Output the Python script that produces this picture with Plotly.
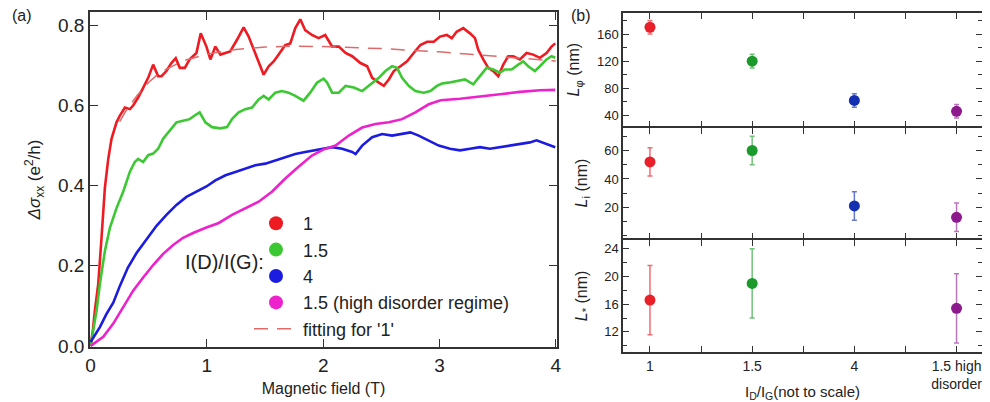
import plotly.graph_objects as go

# ---------------- Panel (a) data: Delta sigma_xx (e^2/h) vs magnetic field (T)
B_r1 = [0.0, 0.02, 0.037, 0.066, 0.094, 0.109, 0.123, 0.152, 0.18, 0.223, 0.252, 0.295, 0.338, 0.366,
        0.409, 0.452, 0.495, 0.538, 0.581, 0.61, 0.652, 0.695, 0.732, 0.767, 0.81, 0.852, 0.91, 0.947,
        0.996, 1.03, 1.073, 1.116, 1.16, 1.2, 1.259, 1.316, 1.359, 1.402, 1.445, 1.488, 1.531, 1.574,
        1.617, 1.674, 1.717, 1.76, 1.803, 1.845, 1.903, 1.96, 2.017, 2.077, 2.134, 2.192, 2.249, 2.32,
        2.378, 2.421, 2.478, 2.521, 2.564, 2.607, 2.664, 2.721, 2.778, 2.835, 2.893, 2.95, 3.004, 3.062,
        3.105, 3.147, 3.204, 3.262, 3.305, 3.333, 3.376, 3.419, 3.462, 3.505, 3.548, 3.591, 3.634, 3.691,
        3.748, 3.805, 3.863, 3.92, 3.963, 3.995]
S_r1 = [0.0, 0.04, 0.089, 0.155, 0.27, 0.329, 0.395, 0.467, 0.517, 0.558, 0.575, 0.595, 0.591, 0.6,
        0.62, 0.644, 0.669, 0.702, 0.673, 0.673, 0.686, 0.706, 0.718, 0.694, 0.694, 0.715, 0.731, 0.78,
        0.747, 0.715, 0.747, 0.727, 0.731, 0.735, 0.764, 0.795, 0.772, 0.739, 0.706, 0.677, 0.698, 0.71,
        0.727, 0.751, 0.755, 0.793, 0.815, 0.788, 0.776, 0.768, 0.776, 0.747, 0.747, 0.731, 0.723, 0.706,
        0.698, 0.669, 0.657, 0.649, 0.665, 0.686, 0.698, 0.71, 0.731, 0.751, 0.759, 0.759, 0.772, 0.776,
        0.768, 0.784, 0.793, 0.78, 0.768, 0.739, 0.715, 0.694, 0.686, 0.673, 0.702, 0.723, 0.723, 0.715,
        0.731, 0.727, 0.719, 0.731, 0.747, 0.755]

B_g15 = [0.0, 0.052, 0.08, 0.123, 0.166, 0.223, 0.28, 0.338, 0.38, 0.409, 0.452, 0.495, 0.538, 0.581,
         0.624, 0.681, 0.738, 0.795, 0.852, 0.895, 0.938, 0.987, 1.044, 1.116, 1.173, 1.216, 1.273, 1.33,
         1.388, 1.445, 1.488, 1.531, 1.588, 1.645, 1.702, 1.76, 1.831, 1.888, 1.946, 2.003, 2.034, 2.077,
         2.134, 2.192, 2.263, 2.335, 2.406, 2.478, 2.535, 2.592, 2.635, 2.678, 2.735, 2.792, 2.864, 2.921,
         2.978, 3.021, 3.076, 3.147, 3.219, 3.29, 3.348, 3.405, 3.462, 3.519, 3.562, 3.62, 3.677, 3.72,
         3.762, 3.82, 3.863, 3.92, 3.963, 3.995]
S_g15 = [0.0, 0.089, 0.155, 0.237, 0.295, 0.344, 0.385, 0.435, 0.459, 0.467, 0.459, 0.476, 0.48, 0.492,
         0.517, 0.537, 0.558, 0.562, 0.566, 0.575, 0.583, 0.558, 0.546, 0.543, 0.546, 0.566, 0.583, 0.591,
         0.595, 0.615, 0.624, 0.615, 0.632, 0.636, 0.632, 0.624, 0.612, 0.632, 0.657, 0.667, 0.657, 0.632,
         0.632, 0.649, 0.645, 0.636, 0.653, 0.669, 0.686, 0.698, 0.694, 0.669, 0.649, 0.636, 0.632, 0.636,
         0.649, 0.655, 0.657, 0.661, 0.665, 0.653, 0.673, 0.694, 0.69, 0.682, 0.69, 0.69, 0.702, 0.71,
         0.698, 0.686, 0.698, 0.715, 0.723, 0.719]

B_b4 = [0.0, 0.08, 0.137, 0.195, 0.252, 0.32, 0.395, 0.481, 0.567, 0.652, 0.738, 0.824, 0.91, 0.996,
        1.073, 1.16, 1.245, 1.33, 1.416, 1.502, 1.588, 1.674, 1.76, 1.845, 1.931, 2.01, 2.077, 2.163,
        2.249, 2.278, 2.335, 2.421, 2.507, 2.592, 2.678, 2.75, 2.821, 2.907, 2.993, 3.09, 3.176, 3.262,
        3.348, 3.433, 3.519, 3.605, 3.691, 3.777, 3.834, 3.92, 3.995]
S_b4 = [0.01, 0.047, 0.08, 0.108, 0.15, 0.195, 0.232, 0.265, 0.3, 0.327, 0.352, 0.372, 0.385, 0.398,
        0.413, 0.426, 0.434, 0.443, 0.451, 0.455, 0.463, 0.471, 0.479, 0.484, 0.488, 0.492, 0.496, 0.492,
        0.484, 0.479, 0.5, 0.521, 0.529, 0.525, 0.529, 0.533, 0.525, 0.513, 0.5, 0.492, 0.488, 0.492,
        0.496, 0.492, 0.496, 0.5, 0.504, 0.508, 0.513, 0.504, 0.496]

B_m15h = [0.0, 0.109, 0.195, 0.281, 0.366, 0.452, 0.538, 0.624, 0.71, 0.795, 0.881, 0.99, 1.102, 1.216,
          1.33, 1.445, 1.559, 1.674, 1.788, 1.903, 2.0, 2.106, 2.22, 2.335, 2.449, 2.564, 2.678, 2.792,
          2.907, 3.01, 3.176, 3.348, 3.519, 3.691, 3.863, 3.995]
S_m15h = [0.0, 0.023, 0.056, 0.097, 0.138, 0.171, 0.202, 0.23, 0.252, 0.27, 0.282, 0.295, 0.307, 0.327,
          0.344, 0.36, 0.385, 0.418, 0.447, 0.475, 0.49, 0.5, 0.525, 0.545, 0.554, 0.558, 0.566, 0.583,
          0.603, 0.613, 0.617, 0.622, 0.628, 0.634, 0.638, 0.639]

B_fit = [0.25, 0.3, 0.4, 0.5, 0.6, 0.8, 1.0, 1.25, 1.5, 1.75, 2.0, 2.5, 3.0, 3.5, 4.0]
S_fit = [0.56, 0.585, 0.625, 0.658, 0.683, 0.712, 0.728, 0.74, 0.746, 0.748, 0.747, 0.742, 0.734, 0.722, 0.711]

legend_names = ["1", "1.5", "4", "1.5 (high disorder regime)"]
fit_name = "fitting for '1'"

# ---------------- Panel (b) data
categories = ["1", "1.5", "4", "1.5 high<br>disorder"]
cat_pos = [0, 1, 2, 3]
L_phi = [170, 120, 62, 46]
L_phi_err = [10, 10, 10, 10]
L_i = [52, 60, 21, 13]
L_i_err = [10, 10, 10, 10]
L_star = [16.6, 19.0, None, 15.4]
L_star_err = [5, 5, None, 5]

# ---------------- styles
FONT = "Liberation Sans, Arial, sans-serif"
col_a = ["#ee1b22", "#3cc832", "#1c1ce0", "#ee22cc"]
col_b = ["#e8202a", "#1a9a2a", "#1430b0", "#8c1a8c"]
col_b_err = ["rgba(232,32,42,0.65)", "rgba(40,160,50,0.65)", "rgba(20,48,176,0.65)", "rgba(140,26,140,0.6)"]
AX = "#333333"

fig = go.Figure()

series_a = [(B_r1, S_r1), (B_g15, S_g15), (B_b4, S_b4), (B_m15h, S_m15h)]
for (bx, sy), c in zip(series_a, col_a):
    fig.add_trace(go.Scatter(x=bx, y=sy, mode="lines", line=dict(color=c, width=2.6),
                             showlegend=False, xaxis="x", yaxis="y"))

for name, c in zip(legend_names, col_a):
    fig.add_trace(go.Scatter(x=[None], y=[None], mode="markers", name=name,
                             marker=dict(size=14, color=c), xaxis="x", yaxis="y"))

fig.add_trace(go.Scatter(x=B_fit, y=S_fit, mode="lines", name=fit_name,
                         line=dict(color="#e06a6a", width=1.5, dash="14px,9px"),
                         xaxis="x", yaxis="y"))

# panel (b)
panels = [(L_phi, L_phi_err, "y2", "x2"), (L_i, L_i_err, "y3", "x3"), (L_star, L_star_err, "y4", "x4")]
for vals, errs, ya, xa in panels:
    for i in range(len(categories)):
        if vals[i] is None:
            continue
        fig.add_trace(go.Scatter(
            x=[cat_pos[i]], y=[vals[i]], mode="markers",
            marker=dict(size=11, color=col_b[i]),
            error_y=dict(type="data", array=[errs[i]], color=col_b_err[i], thickness=1.5, width=2.5),
            showlegend=False, xaxis=xa, yaxis=ya))

# page body has an 8px default margin: figure is sized/offset to compensate
OFF = 8
W, H = 990 - OFF, 402 - OFF
def px_x(p):
    return (p - OFF) / W
def px_y(p):
    return 1 - (p - OFF) / H

common_ax = dict(showline=True, linecolor=AX, linewidth=1.5, mirror="ticks", ticks="inside",
                 tickcolor=AX, tickwidth=1.2, showgrid=False, zeroline=False, automargin=False)

xa_dom = [px_x(90), px_x(557)]
xb_dom = [px_x(623), px_x(982)]

layout = dict(
    width=W, height=H, margin=dict(l=0, r=0, t=0, b=0, autoexpand=False),
    paper_bgcolor="white", plot_bgcolor="white",
    font=dict(family=FONT, color="#222222"),
    showlegend=True,
    legend=dict(x=px_x(249), y=px_y(205), xanchor="left", yanchor="top",
                font=dict(size=18, family=FONT, color="#222"), bgcolor="rgba(0,0,0,0)",
                itemsizing="trace", tracegroupgap=0, itemwidth=44),
    xaxis=dict(domain=xa_dom, range=[-0.005, 4.01], tickvals=[0, 1, 2, 3, 4], ticklen=8,
               tickfont=dict(size=19), anchor="y",
               title=dict(text="Magnetic field (T)", font=dict(size=16), standoff=8), **common_ax),
    yaxis=dict(domain=[px_y(347), px_y(12)], range=[-0.0025, 0.8333], tickvals=[0, 0.2, 0.4, 0.6, 0.8],
               tickformat=".1f", ticklen=8, tickfont=dict(size=19), anchor="x",
               title=dict(text="<i>Δσ</i><sub>xx</sub> (e<sup>2</sup>/h)", font=dict(size=17), standoff=13),
               **common_ax),
)

xb_common = dict(domain=xb_dom, range=[-0.264, 3.249], tickvals=[0, 0.5, 1, 1.5, 2, 2.5, 3], ticklen=6,
                 **common_ax)
layout["xaxis2"] = dict(anchor="y2", showticklabels=False, **xb_common)
layout["xaxis3"] = dict(anchor="y3", showticklabels=False, matches="x2", **xb_common)
layout["xaxis4"] = dict(anchor="y4", matches="x2", ticktext=[categories[0], "", categories[1], "",
                                                             categories[2], "", categories[3]],
                        tickfont=dict(size=14),
                        title=dict(text="I<sub>D</sub>/I<sub>G</sub>(not to scale)", font=dict(size=15),
                                   standoff=3), **xb_common)

yb_common = dict(ticklen=6, tickfont=dict(size=13), **common_ax)
layout["yaxis2"] = dict(domain=[px_y(126.25), px_y(13)], range=[24, 191], tickvals=[40, 80, 120, 160],
                        minor=dict(dtick=20, tick0=0, ticks="inside", ticklen=4, tickcolor=AX),
                        anchor="x2",
                        title=dict(text="<i>L</i><sub>φ</sub> (nm)", font=dict(size=16), standoff=13),
                        **yb_common)
layout["yaxis3"] = dict(domain=[px_y(238.25), px_y(127.75)], range=[-1.7, 76], tickvals=[20, 40, 60],
                        minor=dict(dtick=10, tick0=0, ticks="inside", ticklen=4, tickcolor=AX),
                        anchor="x3",
                        title=dict(text="<i>L</i><sub>i</sub> (nm)", font=dict(size=16), standoff=13),
                        **yb_common)
layout["yaxis4"] = dict(domain=[px_y(352), px_y(239.75)], range=[9.1, 25.3], tickvals=[12, 16, 20, 24],
                        minor=dict(dtick=2, tick0=0, ticks="inside", ticklen=4, tickcolor=AX),
                        anchor="x4",
                        title=dict(text="<i>L</i><sub>*</sub> (nm)", font=dict(size=16), standoff=13),
                        **yb_common)

ann_common = dict(xref="paper", yref="paper", showarrow=False, xanchor="center", yanchor="middle")
layout["annotations"] = [
    dict(text="(a)", x=px_x(22), y=px_y(16), font=dict(size=16, family=FONT, color="#222"), **ann_common),
    dict(text="(b)", x=px_x(581), y=px_y(16), font=dict(size=16, family=FONT, color="#222"), **ann_common),
    dict(text="I(D)/I(G):", x=px_x(224), y=px_y(262), font=dict(size=20, family=FONT, color="#222"),
         **ann_common),
]

fig.update_layout(**layout)
fig.write_html("out.html")
